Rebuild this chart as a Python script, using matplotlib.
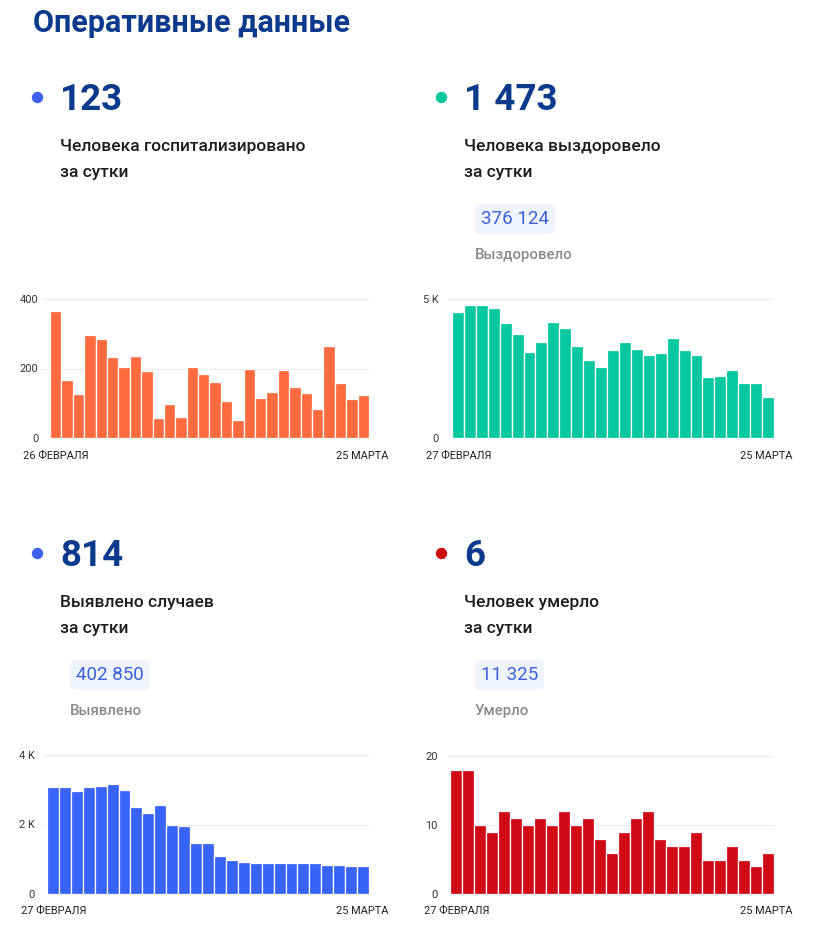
import matplotlib
matplotlib.use("Agg")
import matplotlib.pyplot as plt
from matplotlib.lines import Line2D

plt.rcParams['font.family'] = ['Roboto', 'DejaVu Sans']

# ---------------- data ----------------
hosp_values = [366, 166, 128, 297, 285, 234, 205, 236, 194, 58, 97, 59, 204, 185,
               160, 107, 53, 198, 116, 133, 195, 147, 129, 83, 264, 159, 112, 123]
recov_values = [4530, 4796, 4772, 4676, 4137, 3753, 3082, 3465, 4161, 3969, 3321,
                2794, 2566, 3153, 3453, 3189, 2974, 3070, 3585, 3153, 2986, 2194,
                2230, 2458, 1978, 1966, 1473]
cases_values = [3079, 3089, 2974, 3079, 3098, 3165, 2993, 2504, 2321, 2552, 1995,
                1966, 1458, 1458, 1094, 988, 911, 902, 883, 892, 883, 883, 883,
                825, 825, 815, 814]
death_values = [18, 18, 10, 9, 12, 11, 10, 11, 10, 12, 10, 11, 8, 6, 9, 11, 12, 8,
                7, 7, 9, 5, 5, 7, 5, 4, 6]

hosp_ticks = [0, 200, 400]
hosp_ticklabels = ['0', '200', '400']
recov_ticks = [0, 5000]
recov_ticklabels = ['0', '5 K']
cases_ticks = [0, 2000, 4000]
cases_ticklabels = ['0', '2 K', '4 K']
death_ticks = [0, 10, 20]
death_ticklabels = ['0', '10', '20']

hosp_dates = ['26 ФЕВРАЛЯ', '25 МАРТА']
other_dates = ['27 ФЕВРАЛЯ', '25 МАРТА']

headline_numbers = ['123', '1 473', '814', '6']
headline_line1 = ['Человека госпитализировано', 'Человека выздоровело',
                  'Выявлено случаев', 'Человек умерло']
headline_line2 = ['за сутки', 'за сутки', 'за сутки', 'за сутки']
total_numbers = [None, '376 124', '402 850', '11 325']
total_labels = [None, 'Выздоровело', 'Выявлено', 'Умерло']

# ---------------- style ----------------
W, H = 828, 934
NAVY = '#0b3a8c'
DOT_COLORS = ['#3d63f0', '#0bc7a0', '#3d63f0', '#cc0a14']
BAR_COLORS = ['#ff6b3f', '#05c8a0', '#3763f6', '#cf0a16']

fig = plt.figure(figsize=(W / 100, H / 100), dpi=100)
fig.patch.set_facecolor('white')


def fx(x):
    return x / W


def fy(y):
    return 1 - y / H


fig.text(fx(33), fy(32), 'Оперативные данные', fontsize=22, fontweight='bold',
         color=NAVY, va='baseline', ha='left')

# blocks: (dot x, text x, y offset)
blocks = [(37, 60, 0), (441, 464, 0), (37, 60, 456), (441, 464, 456)]
box_x = [None, 475, 70, 475]

for i, (dx, tx, oy) in enumerate(blocks):
    fig.add_artist(Line2D([fx(dx)], [fy(97 + oy)], marker='o', markersize=7.2,
                          color=DOT_COLORS[i], linestyle='none',
                          transform=fig.transFigure))
    fig.text(fx(tx), fy(110 + oy), headline_numbers[i], fontsize=26.5,
             fontweight='bold', color=NAVY, va='baseline', ha='left')
    fig.text(fx(tx), fy(151 + oy), headline_line1[i], fontsize=12.5,
             fontweight='medium', color='#1c1c1c', va='baseline', ha='left')
    fig.text(fx(tx), fy(177 + oy), headline_line2[i], fontsize=12.5,
             fontweight='medium', color='#1c1c1c', va='baseline', ha='left')
    if total_numbers[i] is not None:
        bx = box_x[i]
        fig.text(fx(bx + 6), fy(224 + oy), total_numbers[i], fontsize=13.5,
                 color='#3f5fd9', va='baseline', ha='left',
                 bbox=dict(boxstyle='round,pad=0.3,rounding_size=0.2',
                           fc='#eef3fd', ec='none'))
        fig.text(fx(bx), fy(259 + oy), total_labels[i], fontsize=10.8,
                 fontweight='medium', color='#8a8a8a', va='baseline', ha='left')


def make_chart(values, color, grid_l, bar_l, bar_r, zero_y, top_y, ymax,
               ticks, ticklabels, label_r, dates, date_l, date_r, date_y):
    n = len(values)
    bw = (bar_r - bar_l) / n
    head = 1.04
    top_px = zero_y - (zero_y - top_y) * head
    ax = fig.add_axes([fx(grid_l), fy(zero_y), (bar_r - grid_l) / W,
                       (zero_y - top_px) / H])
    ax.set_xlim(-0.5 - (bar_l - grid_l) / bw, n - 0.5)
    ax.set_ylim(0, ymax * head)
    ax.bar(range(n), values, width=1.0, color=color, edgecolor='white',
           linewidth=0.9, zorder=2)
    for t in ticks:
        ax.axhline(t, color='#ececec', linewidth=0.8, zorder=1)
    for s in ax.spines.values():
        s.set_visible(False)
    ax.set_xticks([])
    ax.set_yticks(ticks)
    ax.set_yticklabels(ticklabels, fontsize=7.9, color='#333333')
    ax.tick_params(axis='y', length=0, pad=(grid_l - label_r) * 0.72 + 1)
    fig.text(fx(date_l), fy(date_y), dates[0], fontsize=7.9, color='#222222',
             va='baseline', ha='left')
    fig.text(fx(date_r), fy(date_y), dates[1], fontsize=7.9, color='#222222',
             va='baseline', ha='right')
    return ax


make_chart(hosp_values, BAR_COLORS[0], 42, 50, 369, 438, 299, 400,
           hosp_ticks, hosp_ticklabels, 40, hosp_dates, 23, 389, 459)
make_chart(recov_values, BAR_COLORS[1], 448, 452, 774, 438, 299, 5000,
           recov_ticks, recov_ticklabels, 440, other_dates, 426, 793, 459)
make_chart(cases_values, BAR_COLORS[2], 43, 47, 369, 894, 755, 4000,
           cases_ticks, cases_ticklabels, 36, other_dates, 21, 389, 914)
make_chart(death_values, BAR_COLORS[3], 448, 450, 774, 894, 756, 20,
           death_ticks, death_ticklabels, 439, other_dates, 424, 793, 914)

fig.savefig('out.png', dpi=100, facecolor='white')
